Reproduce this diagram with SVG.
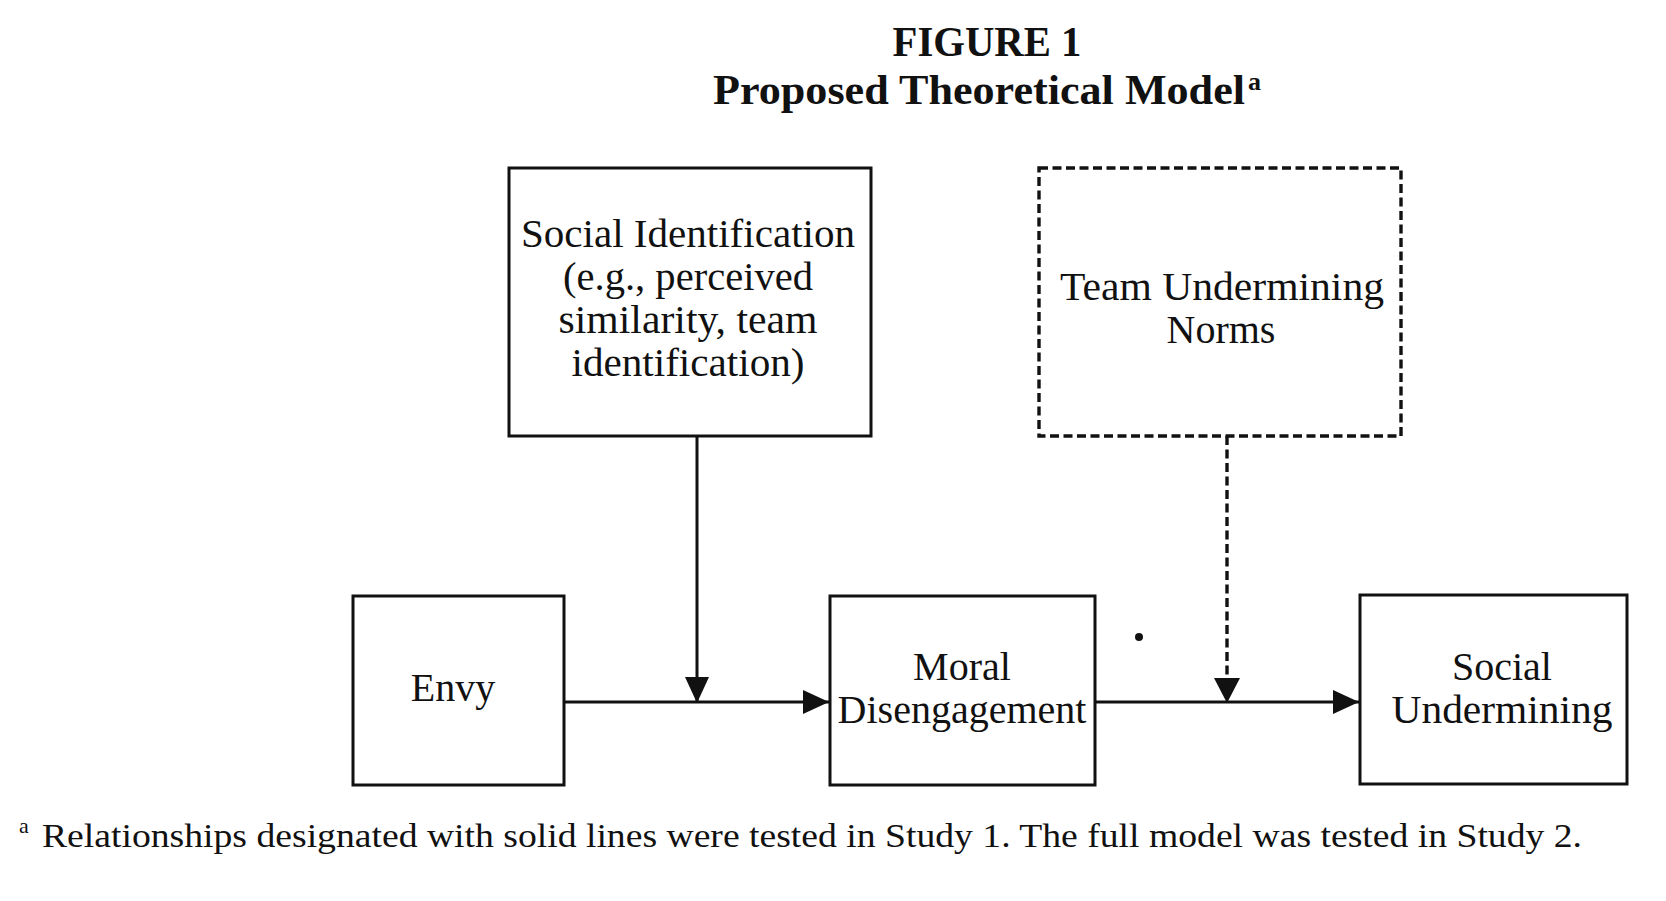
<svg xmlns="http://www.w3.org/2000/svg" width="1666" height="901" viewBox="0 0 1666 901">
  <style>
    .title { font-family: "Liberation Serif", "DejaVu Serif", serif; font-weight: bold; font-size: 42px; fill: #111; }
    .label { font-family: "Liberation Serif", "DejaVu Serif", serif; font-size: 40px; fill: #111; text-anchor: middle; }
    .note { font-family: "Liberation Serif", "DejaVu Serif", serif; font-size: 33px; fill: #111; }
    .box { fill: #fff; stroke: #111; stroke-width: 3; }
    .dashbox { fill: #fff; stroke: #111; stroke-width: 3.4; stroke-dasharray: 9 4.5; }
    .link { fill: none; stroke: #111; stroke-width: 3; }
    .dashlink { fill: none; stroke: #111; stroke-width: 3.4; stroke-dasharray: 9 4.5; }
  </style>
  <defs>
    <marker id="head" viewBox="0 0 26 24" refX="26" refY="12" markerWidth="26" markerHeight="24" markerUnits="userSpaceOnUse" orient="auto">
      <path d="M0,0 L26,12 L0,24 Z" fill="#111"/>
    </marker>
  </defs>
  <rect width="1666" height="901" fill="#fff"/>

  <!-- heading -->
  <g id="heading">
    <text class="title" x="987" y="56" text-anchor="middle" textLength="189" lengthAdjust="spacingAndGlyphs">FIGURE 1</text>
    <text class="title" x="713" y="104" textLength="532" lengthAdjust="spacingAndGlyphs">Proposed Theoretical Model</text>
    <text class="title" x="1248" y="90" style="font-size:26px">a</text>
  </g>

  <!-- connectors -->
  <g id="connectors">
    <line class="link" x1="564" y1="702" x2="829" y2="702" marker-end="url(#head)"/>
    <line class="link" x1="1095" y1="702" x2="1359" y2="702" marker-end="url(#head)"/>
    <line class="link" x1="697" y1="436" x2="697" y2="703" marker-end="url(#head)"/>
    <line class="dashlink" x1="1227" y1="436" x2="1227" y2="680"/>
    <path d="M1214,678 L1240,678 L1227,703 Z" fill="#111"/>
    <circle cx="1139" cy="637" r="4" fill="#111"/>
  </g>

  <g id="social-identification">
    <rect class="box" x="509" y="168" width="362" height="268"/>
    <text class="label" x="688" y="247" textLength="334" lengthAdjust="spacingAndGlyphs">Social Identification</text>
    <text class="label" x="688" y="290" textLength="250" lengthAdjust="spacingAndGlyphs">(e.g., perceived</text>
    <text class="label" x="688" y="333" textLength="259" lengthAdjust="spacingAndGlyphs">similarity, team</text>
    <text class="label" x="688" y="376" textLength="233" lengthAdjust="spacingAndGlyphs">identification)</text>
  </g>

  <g id="team-norms">
    <rect class="dashbox" x="1039" y="168" width="362" height="268"/>
    <text class="label" x="1222" y="300" textLength="324" lengthAdjust="spacingAndGlyphs">Team Undermining</text>
    <text class="label" x="1221" y="343">Norms</text>
  </g>

  <g id="envy">
    <rect class="box" x="353" y="596" width="211" height="189"/>
    <text class="label" x="453" y="701">Envy</text>
  </g>

  <g id="moral-disengagement">
    <rect class="box" x="830" y="596" width="265" height="189"/>
    <text class="label" x="962" y="680">Moral</text>
    <text class="label" x="962" y="723">Disengagement</text>
  </g>

  <g id="social-undermining">
    <rect class="box" x="1360" y="595" width="267" height="189"/>
    <text class="label" x="1502" y="680">Social</text>
    <text class="label" x="1502" y="723" textLength="221" lengthAdjust="spacingAndGlyphs">Undermining</text>
  </g>

  <!-- footnote -->
  <g id="footnote">
    <text class="note" x="19" y="833" style="font-size:22px">a</text>
    <text class="note" x="42" y="847" textLength="1540" lengthAdjust="spacingAndGlyphs">Relationships designated with solid lines were tested in Study 1. The full model was tested in Study 2.</text>
  </g>
</svg>
